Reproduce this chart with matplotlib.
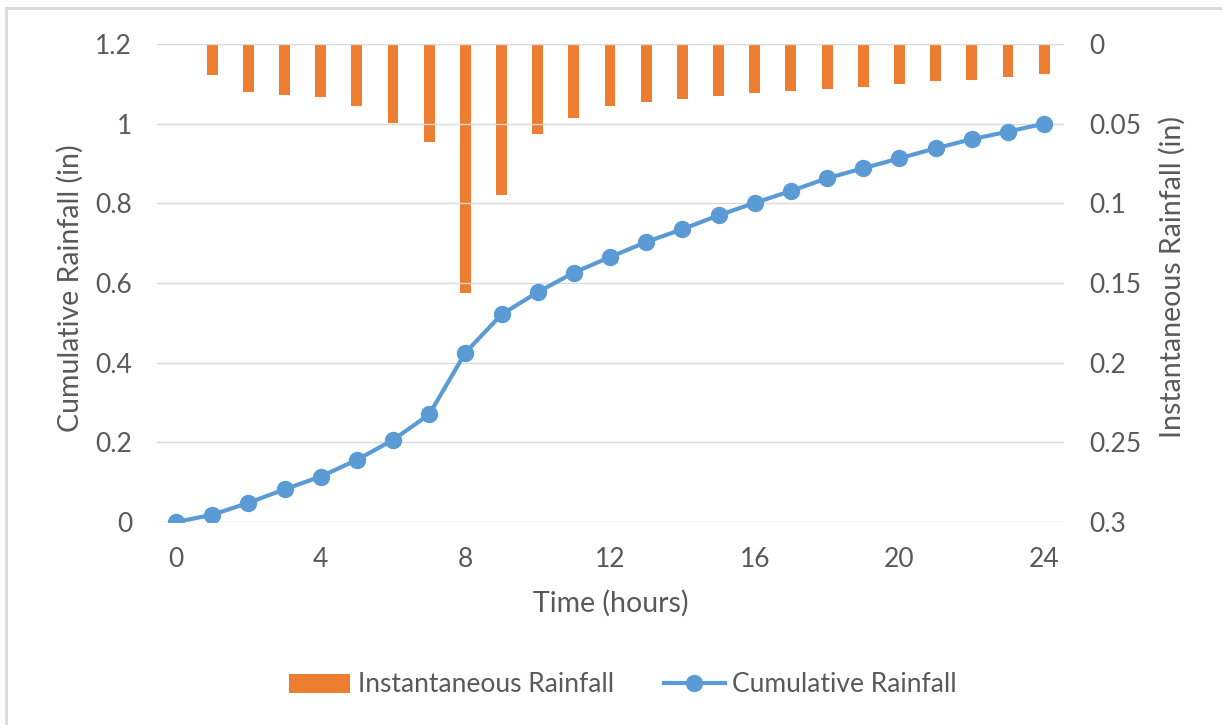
import numpy as np
import matplotlib
matplotlib.use('Agg')
import matplotlib.pyplot as plt

plt.rcParams['font.family'] = ['Lato', 'DejaVu Sans']

# rainfall data
hours = np.arange(0, 25)
cumulative = [0, 0.018, 0.048, 0.082, 0.114, 0.156, 0.206, 0.270, 0.425, 0.521,
              0.577, 0.626, 0.665, 0.703, 0.735, 0.770, 0.801, 0.831, 0.863,
              0.888, 0.913, 0.938, 0.961, 0.980, 1.0]
bar_hours = np.arange(1, 25)
instantaneous = [0.0195, 0.030, 0.032, 0.0335, 0.039, 0.0494, 0.0615, 0.1565,
                 0.0948, 0.0567, 0.0466, 0.039, 0.0364, 0.0345, 0.0329, 0.0308,
                 0.0297, 0.028, 0.0272, 0.0253, 0.0234, 0.0226, 0.0207, 0.0186]

left_ticks = [0, 0.2, 0.4, 0.6, 0.8, 1.0, 1.2]
left_labels = ['0', '0.2', '0.4', '0.6', '0.8', '1', '1.2']
right_ticks = [0, 0.05, 0.1, 0.15, 0.2, 0.25, 0.3]
right_labels = ['0', '0.05', '0.1', '0.15', '0.2', '0.25', '0.3']
x_ticks = [0, 4, 8, 12, 16, 20, 24]

orange = '#ED7D31'
blue = '#5B9BD5'
grey = '#595959'
tick_fs = 19
title_fs = 20.5
leg_fs = 19

fig = plt.figure(figsize=(12.22, 7.25), dpi=100)
W, H = 1222, 725
ax = fig.add_axes([157 / W, 1 - 522 / H, (1064 - 157) / W, (522 - 44) / H])
ax2 = ax.twinx()

# bars hang from the top on the inverted right axis
bars = ax2.bar(bar_hours, instantaneous, width=0.3, color=orange, zorder=2,
               label='Instantaneous Rainfall')
ax2.set_ylim(0.3, 0)

line, = ax.plot(hours, cumulative, color=blue, lw=3, marker='o', ms=11.5,
                zorder=3, label='Cumulative Rainfall')
ax.set_zorder(ax2.get_zorder() + 1)
ax.patch.set_visible(False)

ax.set_xlim(-0.525, 24.55)
ax.set_ylim(0, 1.2)
ax.set_yticks(left_ticks)
ax.set_yticklabels(left_labels)
ax.set_xticks(x_ticks)
ax2.set_yticks(right_ticks)
ax2.set_yticklabels(right_labels)

for a in (ax, ax2):
    for s in a.spines.values():
        s.set_visible(False)
    a.tick_params(length=0, colors=grey, labelsize=tick_fs)
ax.tick_params(axis='y', pad=18)
ax.tick_params(axis='x', pad=18)
ax2.tick_params(axis='y', pad=18)

ax2.grid(False)
for t in left_ticks:
    ax.axhline(t, color='#D9D9D9', lw=1, zorder=0)

fig.text(70 / W, 1 - 288 / H, 'Cumulative Rainfall (in)', rotation=90,
         ha='center', va='center', color=grey, fontsize=title_fs)
fig.text(1172 / W, 1 - 277 / H, 'Instantaneous Rainfall (in)', rotation=90,
         ha='center', va='center', color=grey, fontsize=title_fs)
fig.text(611 / W, 1 - 603 / H, 'Time (hours)', ha='center', va='center',
         color=grey, fontsize=title_fs)

leg = fig.legend([bars, line], ['Instantaneous Rainfall', 'Cumulative Rainfall'],
                 loc='center', bbox_to_anchor=(623 / W, 1 - 685 / H), ncol=2,
                 frameon=False, fontsize=leg_fs, handlelength=2.3, handletextpad=0.3,
                 columnspacing=1.9)
for t in leg.get_texts():
    t.set_color(grey)

# light chart border at top and left
fig.add_artist(plt.Line2D([6 / W, 6 / W], [0, 1 - 8 / H], transform=fig.transFigure,
                          color='#D9D9D9', lw=2))
fig.add_artist(plt.Line2D([6 / W, 1], [1 - 8 / H, 1 - 8 / H], transform=fig.transFigure,
                          color='#D9D9D9', lw=2))

fig.savefig('out.png', dpi=100)
